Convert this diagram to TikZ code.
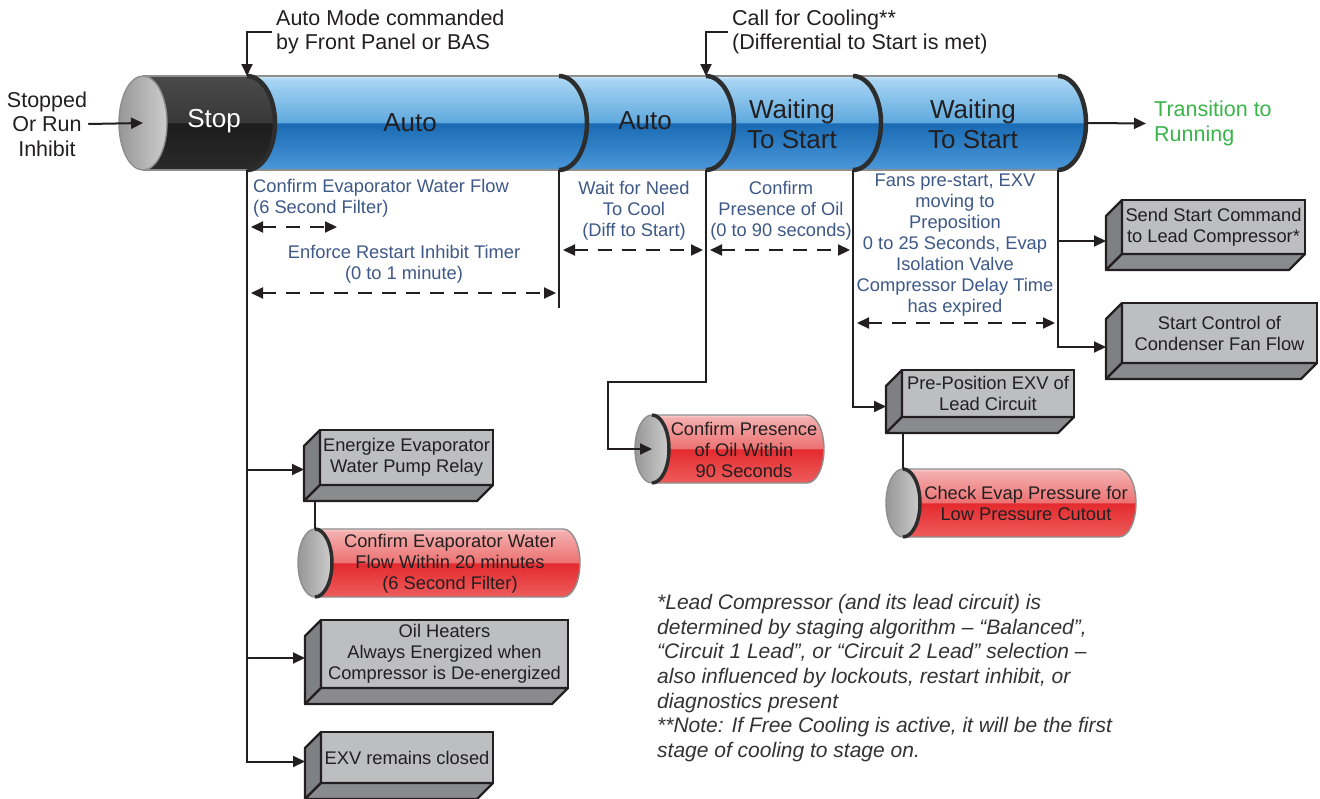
\documentclass[tikz,border=0pt]{standalone}
\usepackage{fontspec}
\setmainfont{Liberation Sans}
\usetikzlibrary{arrows.meta}

\definecolor{ink}{HTML}{231F20}
\definecolor{notetext}{RGB}{62,88,135}
\definecolor{notegray}{HTML}{333333}
\definecolor{gogreen}{RGB}{57,181,74}
\definecolor{boxface}{HTML}{BDBEC0}
\definecolor{boxside}{HTML}{7F8083}
\definecolor{boxbase}{HTML}{8A8B8E}
\definecolor{tubeline}{HTML}{8E8E8E}
\definecolor{rimdark}{HTML}{2D2D2D}
\definecolor{capdark}{HTML}{979797}
\definecolor{caplight}{HTML}{CDCDCD}
% tube colours, top to bottom
\definecolor{tbEdge}{HTML}{CFE8F8}
\definecolor{tbTop}{HTML}{A7D4F2}
\definecolor{tbMid}{HTML}{5FA9DF}
\definecolor{tbDeep}{HTML}{196AB3}
\definecolor{tbBot}{HTML}{4B98D9}
\definecolor{dkTop}{HTML}{4A4A4A}
\definecolor{dkMid}{HTML}{383838}
\definecolor{dkDeep}{HTML}{1C1C1C}
\definecolor{dkBot}{HTML}{2A2A2A}
\definecolor{rdEdge}{HTML}{F8D0D0}
\definecolor{rdTop}{HTML}{F4AEAE}
\definecolor{rdMid}{HTML}{EC7272}
\definecolor{rdDeep}{HTML}{E42A2E}
\definecolor{rdBot}{HTML}{EE5C5C}

\pgfdeclareverticalshading{bluetube}{100bp}{color(0bp)=(tbBot); color(25bp)=(tbBot);
  color(49.9bp)=(tbDeep); color(50.2bp)=(tbMid); color(73bp)=(tbTop); color(75bp)=(tbEdge); color(100bp)=(tbEdge)}
\pgfdeclareverticalshading{darktube}{100bp}{color(0bp)=(dkBot); color(25bp)=(dkBot);
  color(49.9bp)=(dkDeep); color(50.2bp)=(dkMid); color(75bp)=(dkTop); color(100bp)=(dkTop)}
\pgfdeclareverticalshading{redtube}{100bp}{color(0bp)=(rdBot); color(25bp)=(rdBot);
  color(49.9bp)=(rdDeep); color(50.2bp)=(rdMid); color(73bp)=(rdTop); color(75bp)=(rdEdge); color(100bp)=(rdEdge)}

\begin{document}
\begin{tikzpicture}[
    x=1pt, y=-1pt,
    tag/.style={text=ink, font=\fontsize{21.5}{24.5}\selectfont, inner sep=4pt},
    phase/.style={text=ink, font=\fontsize{26}{30}\selectfont, align=center},
    note/.style={text=notetext, font=\fontsize{18.3}{21}\selectfont, align=center, inner sep=1pt},
    tubetext/.style={text=ink, font=\fontsize{18.3}{21}\selectfont, align=center},
    block/.style={draw=ink, line width=2.2pt, fill=boxface, text=ink, outer sep=0pt,
        font=\fontsize{18.3}{21}\selectfont, align=center, inner sep=2pt},
    wire/.style={draw=ink, line width=2pt},
    link/.style={wire, -{Triangle[length=12pt,width=11pt]}},
    timespan/.style={wire, line width=2.2pt, dash pattern=on 14pt off 10pt,
        {Triangle[length=12pt,width=11pt]}-{Triangle[length=12pt,width=11pt]},
        shorten <=4pt, shorten >=3pt},
    rim/.style={draw=rimdark, line width=4.5pt},
    tubeedge/.style={draw=tubeline, line width=1.4pt},
    sideface/.style={fill=boxside, draw=ink, line width=2.2pt, line join=round},
    baseface/.style={fill=boxbase, draw=ink, line width=2.2pt, line join=round}
]

    \path[use as bounding box, fill=white] (0,0) rectangle (1320,798);

    % Main tube
    \shade[shading=bluetube] (143,76) -- (1058,76)
        arc[start angle=90, end angle=-90, x radius=28pt, y radius=47pt] -- (143,170) -- cycle;
    \shade[shading=darktube] (143,76) -- (247,76)
        arc[start angle=90, end angle=-90, x radius=28pt, y radius=47pt] -- (143,170) -- cycle;
    \draw[tubeedge] (143,76) -- (1058,76) (143,170) -- (1058,170);
    \shade[left color=capdark, right color=caplight, draw=tubeline, line width=1.4pt]
        (143,123) ellipse[x radius=24pt, y radius=47pt];
    \foreach \bx [count=\i from 0] in {247,559,706,853,1058} {
        \draw[rim] (\bx,76) arc[start angle=90, end angle=-90, x radius=28pt, y radius=47pt];
        \coordinate (t\i) at (\bx,76);
        \coordinate (b\i) at (\bx,170);
    }
    \coordinate (cap) at (143,123);
    \coordinate (tubeend) at (1086,123);

    % Phase labels
    \node[phase, text=white] (stop) at (214,121) {Stop};
    \node[phase] (auto1) at (410,123) {Auto};
    \node[phase] (auto2) at (645,121) {Auto};
    \node[phase] (wait1) at (792,124) {Waiting\\To Start};
    \node[phase] (wait2) at (973,124) {Waiting\\To Start};

    % Inputs and outputs of the tube
    \node[tag, align=center, inner sep=1pt] (stopped) at (47,124) {Stopped\\Or Run\\Inhibit};
    \node[tag, text=gogreen, align=left, anchor=west] (running) at (1150,123.5) {Transition to\\Running};
    \node[tag, align=left, anchor=west] (automode) at (272,32) {Auto Mode commanded\\by Front Panel or BAS};
    \node[tag, align=left, anchor=west] (callcool) at (728,32) {Call for Cooling**\\(Differential to Start is met)};

    \draw[link] (stopped.east) -- (cap);
    \draw[link, shorten >=4pt] (tubeend) -- (running.west);
    \draw[link] (automode.west) -| (t0);
    \draw[link] (callcool.west) -| (t2);

    % Timing notes under the tube
    \node[note, align=left, anchor=west] (flowtxt) at (252,198.5) {Confirm Evaporator Water Flow\\(6 Second Filter)};
    \node[note] (inhibit) at (404,264.5) {Enforce Restart Inhibit Timer\\(0 to 1 minute)};
    \node[note] (needcool) at (634,210.5) {Wait for Need\\To Cool\\(Diff to Start)};
    \node[note] (oiltxt) at (781,210.5) {Confirm\\Presence of Oil\\(0 to 90 seconds)};
    \node[note] (prestart) at (955,245) {Fans pre-start, EXV\\moving to\\Preposition\\0 to 25 Seconds, Evap\\Isolation Valve\\Compressor Delay Time\\has expired};

    \draw[timespan] (b0 |- 0,227) -- ++(93,0);
    \draw[timespan] (b0 |- 0,293) -- (b1 |- 0,293);
    \draw[timespan] (b1 |- 0,250) -- (b2 |- 0,250);
    \draw[timespan] (b2 |- 0,250) -- (b3 |- 0,250);
    \draw[timespan] (b3 |- 0,323) -- (b4 |- 0,323);
    \draw[wire] (b1) -- (b1 |- 0,308);

    % Red check tubes
    \foreach \cx/\cy/\ex in {315/563/563,652/449/807,903/503/1119} {
        \shade[shading=redtube, draw=tubeline, line width=1.4pt] (\cx,\cy-34) -- (\ex,\cy-34)
            arc[start angle=90, end angle=-90, x radius=17pt, y radius=34pt] -- (\cx,\cy+34) -- cycle;
        \shade[left color=capdark, right color=caplight, draw=tubeline, line width=1.4pt]
            (\cx,\cy) ellipse[x radius=17pt, y radius=34pt];
        \draw[rim, line width=3.5pt] (\cx,\cy-34) arc[start angle=90, end angle=-90, x radius=17pt, y radius=34pt];
    }
    \node[tubetext] (flowchk) at (450,564) {Confirm Evaporator Water\\Flow Within 20 minutes\\(6 Second Filter)};
    \node[tubetext] (oilchk) at (744,450) {Confirm Presence\\of Oil Within\\90 Seconds};
    \node[tubetext] (evapchk) at (1026,503) {Check Evap Pressure for\\Low Pressure Cutout};
    \coordinate (flowtop) at (315,529);
    \coordinate (oilcap) at (652,449);
    \coordinate (evaptop) at (903,469);

    % Action boxes
    \node[block, minimum width=173pt, minimum height=55pt] (pump) at (406.5,457.5) {Energize Evaporator\\Water Pump Relay};
    \node[block, minimum width=247pt, minimum height=68pt] (heat) at (444.5,654) {Oil Heaters\\Always Energized when\\Compressor is De-energized};
    \node[block, minimum width=172pt, minimum height=51pt] (exv) at (407,757.5) {EXV remains closed};
    \node[block, minimum width=172pt, minimum height=47pt] (prepos) at (988,393.5) {Pre-Position EXV of\\Lead Circuit};
    \node[block, minimum width=183pt, minimum height=54pt] (start) at (1213.5,227) {Send Start Command\\to Lead Compressor*};
    \node[block, minimum width=195pt, minimum height=60pt] (cond) at (1219.5,333) {Start Control of\\Condenser Fan Flow};

    \foreach \b in {pump,heat,exv,prepos,start,cond} {
        \filldraw[sideface] (\b.north west) -- ++(-16,16) -- ([shift={(-16,16)}]\b.south west)
            -- (\b.south west) -- cycle;
        \filldraw[baseface] (\b.south west) -- ([shift={(-16,16)}]\b.south west)
            -- ([shift={(-16,16)}]\b.south east) -- (\b.south east) -- cycle;
    }

    \coordinate (pumpin) at ([xshift=-16pt,yshift=-12pt]pump.west);
    \coordinate (heatin) at ([xshift=-16pt,yshift=-4pt]heat.west);
    \coordinate (exvin) at ([xshift=-16pt,yshift=-4pt]exv.west);
    \coordinate (prepin) at ([xshift=-16pt,yshift=-13pt]prepos.west);
    \coordinate (startin) at ([xshift=-16pt,yshift=-14pt]start.west);
    \coordinate (condin) at ([xshift=-16pt,yshift=-14pt]cond.west);
    \coordinate (pumpfoot) at ([yshift=-16pt]pump.south);
    \coordinate (prepfoot) at ([yshift=-16pt]prepos.south);

    % Connectors
    \draw[link] (b0) |- (exvin);
    \draw[link] (b0 |- pumpin) -- (pumpin);
    \draw[link] (b0 |- heatin) -- (heatin);
    \draw[wire] (flowtop |- pumpfoot) -- (flowtop);
    \draw[link] (b2) -- ++(0,212) -- ++(-98,0) |- (oilcap);
    \draw[link] (b3) |- (prepin);
    \draw[wire] (evaptop |- prepfoot) -- (evaptop);
    \draw[link] (b4) |- (condin);
    \draw[link] (b4 |- startin) -- (startin);

    % Footnotes
    \node[anchor=west, align=left, text=notegray, inner sep=0pt,
        font=\fontsize{21}{24.7}\selectfont\itshape] (footnote) at (657,678)
        {*Lead Compressor (and its lead circuit) is\\determined by staging algorithm – “Balanced”,\\“Circuit 1 Lead”, or “Circuit 2 Lead” selection –\\also influenced by lockouts, restart inhibit, or\\diagnostics present\\\relax**Note: If Free Cooling is active, it will be the first\\stage of cooling to stage on.};

\end{tikzpicture}
\end{document}
